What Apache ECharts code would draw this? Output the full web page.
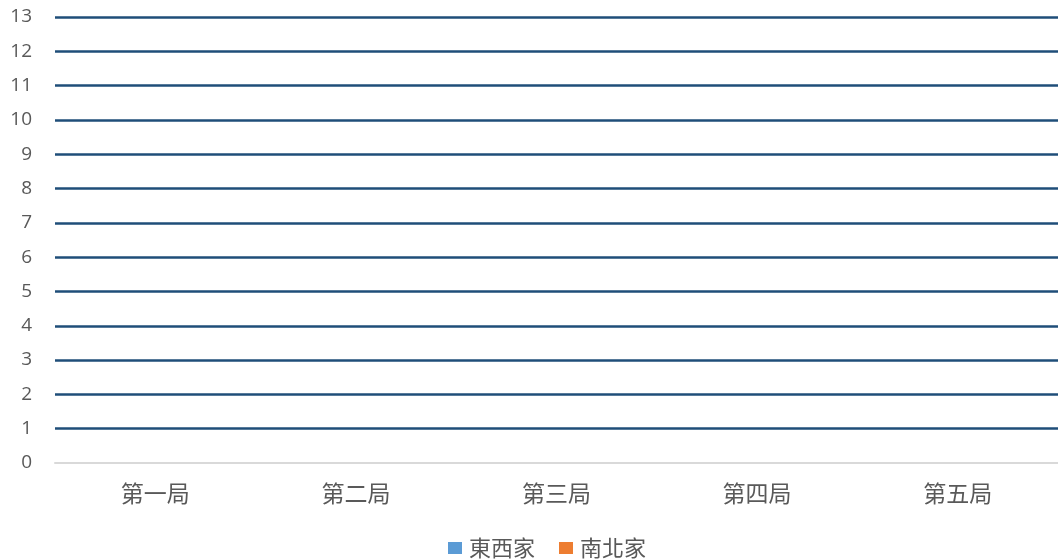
<!DOCTYPE html>
<html><head><meta charset="utf-8">
<script src="https://cdn.jsdelivr.net/npm/echarts@6/dist/echarts.min.js"></script>
<style>html,body{margin:0;padding:0;background:#fff}#c{width:1058px;height:560px}</style>
</head><body><div id="c"></div>
<script>
var categories = ['第一局','第二局','第三局','第四局','第五局'];
var seriesNames = ['東西家','南北家'];
var eastWest = [0,0,0,0,0];
var southNorth = [0,0,0,0,0];
var chart = echarts.init(document.getElementById('c'));
var font = '"Noto Sans CJK TC","Noto Sans",sans-serif';
chart.setOption({
  animation:false,
  grid:{left:55,right:0,top:17,bottom:97,containLabel:false},
  legend:{top:532,left:443,itemWidth:14,itemHeight:12,itemGap:24,icon:'rect',
    textStyle:{fontSize:22,color:'#595959',fontFamily:font,padding:[0,0,0,2]},data:seriesNames},
  xAxis:{type:'category',data:categories,z:5,
    axisLine:{lineStyle:{color:'#D9D9D9',width:2}},axisTick:{show:false},
    axisLabel:{fontSize:23,color:'#595959',margin:19,fontFamily:font}},
  yAxis:{type:'value',min:0,max:13,interval:1,
    axisLine:{show:false},axisTick:{show:false},
    axisLabel:{fontSize:19,color:'#595959',margin:23,fontFamily:'"Open Sans","Noto Sans",sans-serif'},
    splitLine:{showMinLine:false,lineStyle:{color:'#1F4E79',width:2.5}}},
  series:[
    {name:seriesNames[0],type:'bar',data:eastWest,itemStyle:{color:'#5B9BD5'}},
    {name:seriesNames[1],type:'bar',data:southNorth,itemStyle:{color:'#ED7D31'}}
  ]
});
</script></body></html>
